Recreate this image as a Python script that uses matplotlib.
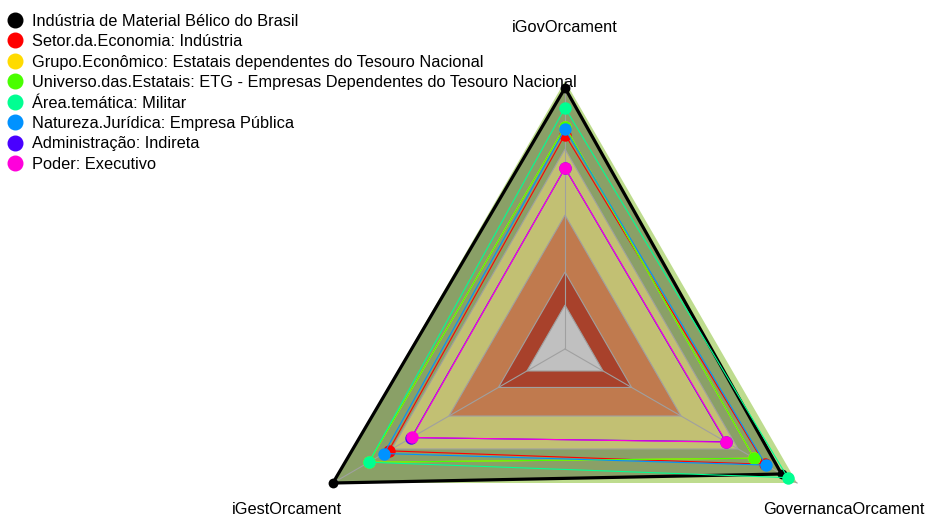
import matplotlib
matplotlib.use("Agg")
import matplotlib.pyplot as plt
import numpy as np
from matplotlib.lines import Line2D

plt.rcParams['font.family'] = ['Liberation Sans', 'DejaVu Sans']

# ---------------- data ----------------
axis_labels = ["iGovOrcament", "iGestOrcament", "GovernancaOrcament"]

series_names = [
    "Indústria de Material Bélico do Brasil",
    "Setor.da.Economia: Indústria",
    "Grupo.Econômico: Estatais dependentes do Tesouro Nacional",
    "Universo.das.Estatais: ETG - Empresas Dependentes do Tesouro Nacional",
    "Área.temática: Militar",
    "Natureza.Jurídica: Empresa Pública",
    "Administração: Indireta",
    "Poder: Executivo",
]
series_colors = ["#000000", "#FF0000", "#FFDB00", "#49FF00",
                 "#00FF92", "#0092FF", "#4900FF", "#FF00DB"]

# values per axis: [iGovOrcament, iGestOrcament, GovernancaOrcament]
imbel = [0.974, 1.000, 0.933]
setor_industria = [0.800, 0.760, 0.860]
grupo_dependentes = [0.830, 0.845, 0.815]
universo_etg = [0.830, 0.845, 0.815]
area_militar = [0.900, 0.845, 0.960]
natureza_publica = [0.820, 0.780, 0.866]
adm_indireta = [0.675, 0.662, 0.692]
poder_executivo = [0.675, 0.660, 0.695]
series_values = [imbel, setor_industria, grupo_dependentes, universo_etg,
                 area_militar, natureza_publica, adm_indireta, poder_executivo]

# background zones (outer level of each zone, outermost first)
zone_levels = [1.0, 0.746, 0.500, 0.287, 0.164]
zone_colors = ["#BEDC8E", "#C2C073", "#C07A4E", "#A8412B", "#C0C0C0"]

# ---------------- geometry ----------------
W, H = 926, 521
cx, cy, R = 565, 349, 268
angles = np.deg2rad([90, 210, 330])


def xy(vals):
    v = np.asarray(vals, dtype=float)
    return v * np.cos(angles), v * np.sin(angles)


fig = plt.figure(figsize=(W / 100, H / 100), dpi=100)
ax = fig.add_axes([0, 0, 1, 1])
ax.set_xlim(-cx / R, (W - cx) / R)
ax.set_ylim((cy - H) / R, cy / R)
ax.axis("off")

# outer zone
x, y = xy([zone_levels[0]] * 3)
ax.fill(x, y, color=zone_colors[0], lw=0, zorder=1)

# shaded fill of the main series
x, y = xy(imbel)
ax.fill(x, y, color="black", alpha=0.27, lw=0, zorder=2)

# inner zones
for lev, col in zip(zone_levels[1:], zone_colors[1:]):
    x, y = xy([lev] * 3)
    ax.fill(x, y, facecolor=col, edgecolor="#A0A0A0", lw=0.8, zorder=3)

# radial axis lines
for a in angles:
    ax.plot([0, np.cos(a)], [0, np.sin(a)], color="#A0A0A0", lw=0.8, zorder=4)

# series
for i, (vals, col) in enumerate(zip(series_values, series_colors)):
    x, y = xy(vals)
    xc, yc = np.append(x, x[0]), np.append(y, y[0])
    lw = 2.3 if i == 0 else 0.8
    ax.plot(xc, yc, color=col, lw=lw, zorder=5 + 2 * i)
    ax.scatter(x, y, s=50 if i == 0 else 80, color=col, lw=0, zorder=6 + 2 * i)

# axis labels
for lab, a in zip(axis_labels, angles):
    ax.text(1.2 * np.cos(a), 1.2 * np.sin(a), lab, ha="center", va="center",
            fontsize=11.8, color="black")

# legend
handles = [Line2D([], [], marker="o", ls="", color=c, markersize=10.5)
           for c in series_colors]
fig.legend(handles, series_names, loc="upper left",
           bbox_to_anchor=(0.0, 1 - 7.0 / H),
           frameon=False, fontsize=11.8, handletextpad=0.55, labelspacing=0.335,
           borderaxespad=0, borderpad=0.4, handlelength=1.0)

fig.savefig("out.png", dpi=100)
